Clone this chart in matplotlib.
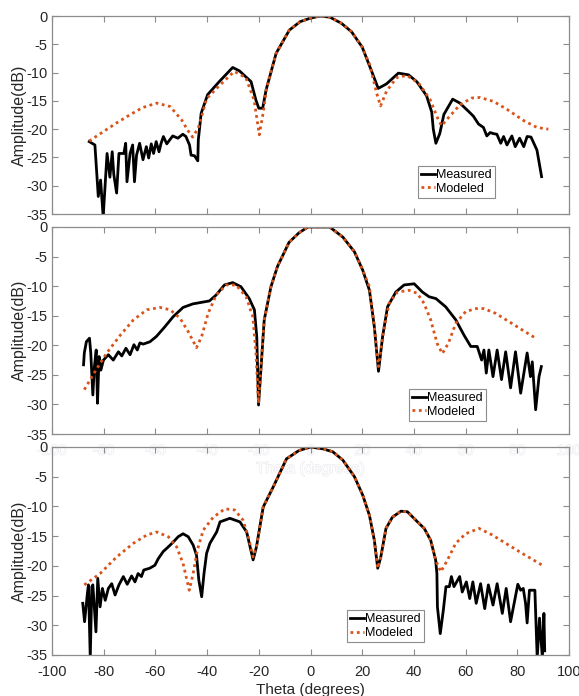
import numpy as np
import matplotlib.pyplot as plt
import matplotlib.patheffects as pe

plt.rcParams['font.family'] = ['Liberation Sans', 'DejaVu Sans']
plt.rcParams['axes.unicode_minus'] = False

# Datos (theta en grados, amplitud en dB)
medido_1 = np.array([
    (-85.6, -22.2), (-83.4, -22.8), (-82.8, -27.0), (-82.1, -31.9), (-81.2, -29.0), (-80.2, -35.5),
    (-78.7, -24.3), (-77.6, -28.5), (-76.7, -24.0), (-76.1, -28.0), (-75.0, -31.3), (-74.1, -24.3),
    (-72.2, -24.3), (-71.5, -22.5), (-71.0, -29.3), (-69.8, -24.3), (-68.8, -22.8), (-68.1, -29.3),
    (-67.3, -24.6), (-66.1, -22.5), (-64.8, -25.4), (-63.5, -23.1), (-62.6, -25.1), (-61.6, -22.6),
    (-60.7, -24.3), (-59.7, -22.2), (-58.6, -24.0), (-57.8, -22.5), (-56.9, -21.3), (-55.6, -22.6),
    (-53.3, -21.2), (-51.3, -21.6), (-49.4, -20.9), (-48.2, -21.3), (-46.8, -22.8), (-46.2, -24.6),
    (-44.9, -24.7), (-43.6, -25.6), (-43.4, -21.9), (-42.3, -17.2), (-39.8, -13.9), (-35.3, -11.6),
    (-30.1, -9.1), (-27.5, -9.7), (-23.0, -11.6), (-21.1, -14.9), (-20.0, -16.3), (-18.5, -16.3),
    (-17.2, -13.1), (-13.3, -6.6), (-8.2, -2.5), (-4.0, -1.0), (-0.2, -0.4), (3.7, 0.0), (7.5, -0.2),
    (12.0, -1.3), (15.9, -2.8), (20.0, -5.5), (23.0, -9.0), (26.2, -12.8), (29.4, -12.0), (34.0, -10.1),
    (37.9, -10.4), (41.1, -11.6), (44.9, -14.1), (46.9, -17.0), (47.5, -20.0), (48.5, -22.5),
    (50.0, -20.8), (51.6, -17.4), (55.0, -14.7), (57.8, -15.4), (61.0, -16.8), (63.0, -17.7),
    (65.0, -19.1), (66.9, -19.7), (68.2, -21.2), (69.5, -20.6), (70.8, -20.8), (72.1, -20.9),
    (73.6, -22.5), (74.7, -21.3), (76.0, -22.8), (77.9, -21.2), (79.2, -23.1), (80.9, -21.6),
    (82.5, -23.1), (83.8, -21.3), (85.3, -21.4), (87.6, -23.7), (89.4, -28.4),
])
modelo_1 = np.array([
    (-85.6, -22.1), (-80.0, -20.4), (-75.0, -18.9), (-70.0, -17.5), (-65.0, -16.2), (-59.5, -15.4),
    (-54.3, -16.0), (-49.8, -18.4), (-47.5, -20.2), (-45.6, -21.4), (-43.4, -19.8), (-40.2, -14.6),
    (-35.0, -12.2), (-29.5, -9.8), (-25.0, -10.9), (-21.8, -14.9), (-19.8, -21.0), (-18.3, -17.1),
    (-17.0, -12.7), (-13.3, -6.6), (-8.2, -2.5), (-4.0, -1.0), (-0.2, -0.4), (3.7, 0.0), (7.5, -0.2),
    (12.0, -1.3), (15.9, -2.8), (20.0, -5.5), (23.0, -8.7), (25.5, -13.5), (27.1, -15.9), (29.4, -13.3),
    (33.3, -10.9), (37.2, -10.5), (41.7, -11.8), (46.2, -14.7), (49.4, -18.3), (50.7, -19.4),
    (53.3, -18.0), (57.8, -15.7), (62.4, -14.5), (65.6, -14.4), (70.8, -15.1), (76.0, -16.5),
    (82.5, -18.5), (87.6, -19.7), (92.0, -20.0),
])

medido_2 = np.array([
    (-87.8, -23.3), (-87.5, -21.3), (-86.7, -19.4), (-85.5, -18.8), (-85.0, -21.3), (-84.2, -28.4),
    (-83.6, -23.6), (-82.9, -20.8), (-82.4, -29.8), (-81.8, -21.9), (-81.1, -24.2), (-80.1, -22.5),
    (-78.2, -21.6), (-76.3, -22.5), (-74.3, -21.1), (-73.0, -21.8), (-71.4, -20.5), (-69.8, -21.6),
    (-68.3, -19.9), (-67.0, -20.8), (-66.0, -19.6), (-64.7, -19.8), (-62.1, -19.4), (-59.6, -18.5),
    (-56.4, -16.9), (-53.2, -15.2), (-49.3, -13.6), (-45.5, -13.0), (-39.1, -12.5), (-36.5, -11.5),
    (-33.3, -9.8), (-30.1, -9.4), (-26.9, -10.1), (-23.7, -12.1), (-21.7, -14.0), (-20.8, -18.5),
    (-20.1, -30.1), (-19.2, -24.2), (-17.9, -15.7), (-15.3, -10.1), (-12.8, -6.7), (-8.3, -2.6),
    (-4.5, -1.0), (-1.0, 0.0), (3.0, 0.0), (7.4, 0.0), (12.5, -1.7), (17.0, -4.2), (20.2, -7.3),
    (22.8, -10.7), (24.7, -16.9), (26.3, -24.4), (27.9, -18.5), (29.8, -13.5), (33.0, -11.0),
    (36.2, -9.8), (40.1, -9.6), (43.3, -11.0), (45.9, -11.8), (48.5, -12.1), (52.3, -13.5),
    (56.2, -15.7), (59.4, -18.3), (62.0, -20.2), (64.5, -20.2), (66.2, -22.5), (67.1, -20.8),
    (68.0, -24.7), (69.0, -20.8), (70.6, -25.3), (72.2, -20.8), (73.9, -25.8), (75.5, -21.1),
    (77.4, -27.2), (79.3, -21.1), (81.3, -28.1), (83.8, -21.3), (85.1, -25.3), (85.8, -22.8),
    (87.1, -30.9), (88.4, -25.3), (89.3, -23.6),
])
modelo_2 = np.array([
    (-87.5, -27.5), (-82.6, -23.9), (-78.8, -21.3), (-73.6, -18.3), (-68.5, -15.7), (-63.3, -14.0),
    (-58.2, -13.6), (-54.3, -14.0), (-50.5, -15.4), (-47.3, -17.7), (-44.1, -20.4), (-42.1, -18.5),
    (-39.6, -14.6), (-36.5, -11.5), (-32.6, -9.8), (-28.8, -9.8), (-24.9, -11.8), (-22.3, -15.2),
    (-21.1, -21.3), (-20.1, -29.8), (-18.8, -21.3), (-17.9, -15.7), (-15.3, -10.1), (-12.8, -6.7),
    (-8.3, -2.6), (-4.5, -1.0), (-1.0, 0.0), (3.0, 0.0), (7.4, 0.0), (12.5, -1.7), (17.0, -4.2),
    (20.2, -7.3), (22.8, -10.1), (24.7, -16.9), (26.3, -23.6), (28.1, -18.0), (30.4, -12.9),
    (33.6, -11.0), (38.1, -10.7), (41.3, -11.2), (43.9, -12.9), (46.5, -15.7), (49.0, -19.7),
    (51.0, -21.4), (53.3, -19.7), (56.2, -16.3), (60.0, -14.3), (63.9, -13.8), (67.1, -13.8),
    (71.6, -14.6), (76.8, -16.0), (81.9, -17.4), (87.1, -18.8),
])

medido_3 = np.array([
    (-88.1, -26.3), (-87.4, -29.4), (-86.3, -24.6), (-85.9, -23.2), (-85.2, -35.5), (-84.6, -23.5),
    (-84.2, -23.2), (-83.0, -31.1), (-82.3, -22.1), (-81.4, -26.9), (-80.5, -23.8), (-79.4, -25.8),
    (-78.2, -23.8), (-76.9, -23.0), (-75.6, -24.9), (-74.1, -23.2), (-72.4, -21.8), (-70.9, -23.1),
    (-69.2, -21.7), (-67.9, -22.7), (-66.7, -21.3), (-65.4, -21.8), (-64.5, -20.7), (-62.2, -20.4),
    (-60.2, -19.9), (-58.9, -18.8), (-57.0, -17.6), (-55.0, -16.8), (-53.1, -16.0), (-51.2, -15.1),
    (-49.3, -14.6), (-47.3, -15.1), (-45.4, -16.5), (-44.1, -18.2), (-43.2, -22.4), (-42.1, -25.2),
    (-41.2, -21.3), (-40.2, -17.9), (-38.9, -16.2), (-36.3, -14.3), (-35.0, -12.6), (-31.2, -12.0),
    (-27.3, -12.6), (-24.7, -14.3), (-22.2, -19.0), (-20.9, -16.8), (-18.3, -10.1), (-14.4, -6.7),
    (-9.3, -2.0), (-4.5, -0.6), (0.0, 0.0), (4.7, -0.3), (8.6, -0.8), (12.5, -2.2), (17.0, -5.0),
    (20.2, -8.1), (22.8, -11.5), (24.7, -15.7), (26.0, -20.4), (27.2, -18.5), (29.2, -13.7),
    (31.7, -11.8), (35.0, -10.8), (37.5, -10.9), (41.4, -12.6), (44.0, -13.7), (46.5, -15.7),
    (48.4, -19.0), (48.9, -21.3), (49.1, -26.9), (50.2, -31.4), (51.4, -27.4), (52.4, -23.5),
    (53.7, -23.5), (54.5, -21.8), (55.5, -23.5), (57.7, -21.8), (58.7, -24.4), (60.3, -22.7),
    (61.6, -25.5), (62.8, -22.7), (64.1, -26.3), (65.8, -23.0), (67.4, -27.2), (68.8, -23.2),
    (70.6, -26.6), (72.2, -23.0), (74.2, -28.0), (75.7, -23.8), (77.4, -29.4), (79.0, -25.8),
    (80.2, -23.1), (81.3, -24.1), (82.3, -23.8), (83.2, -26.3), (83.8, -29.6), (84.7, -24.1),
    (86.8, -24.1), (87.7, -35.5), (88.6, -28.8), (89.7, -35.5), (90.3, -28.0), (90.6, -34.3),
])
modelo_3 = np.array([
    (-87.5, -23.2), (-81.4, -21.3), (-75.0, -18.5), (-68.5, -16.2), (-63.3, -14.8), (-59.5, -14.3),
    (-55.0, -15.1), (-51.8, -16.8), (-49.3, -19.6), (-46.9, -24.1), (-45.4, -21.3), (-43.8, -17.4),
    (-41.5, -14.0), (-37.6, -11.8), (-33.1, -10.4), (-29.3, -10.6), (-26.1, -12.3), (-24.1, -15.1),
    (-22.2, -18.5), (-20.9, -16.8), (-18.3, -10.1), (-14.4, -6.7), (-9.3, -2.0), (-4.5, -0.6),
    (0.0, 0.0), (4.7, -0.3), (8.6, -0.8), (12.5, -2.2), (17.0, -5.0), (20.2, -8.1), (22.8, -11.5),
    (24.7, -15.7), (26.0, -20.4), (27.2, -18.5), (29.2, -13.7), (31.7, -11.8), (35.0, -10.8),
    (37.5, -10.9), (41.4, -12.6), (44.0, -13.7), (46.5, -15.7), (48.4, -19.0), (50.4, -21.0),
    (53.0, -19.0), (56.2, -16.2), (60.0, -14.6), (65.2, -13.7), (70.3, -14.8), (75.5, -16.2),
    (81.9, -17.9), (89.7, -19.9),
])

paneles = [(medido_1, modelo_1), (medido_2, modelo_2), (medido_3, modelo_3)]
xticks = [-100, -80, -60, -40, -20, 0, 20, 40, 60, 80, 100]
yticks = [-35, -30, -25, -20, -15, -10, -5, 0]

# posiciones en px de la figura: (arriba, abajo) de cada eje
W, H = 579, 696
cajas = [(16, 214), (227, 434), (447, 655)]
leyendas = [(0.708, 0.081), (0.690, 0.063), (0.571, 0.0625)]

gris = '#8c8c8c'
naranja = '#D95319'

fig = plt.figure(figsize=(W / 100, H / 100), dpi=100)

for i, ((med, mod), (t, b)) in enumerate(zip(paneles, cajas)):
    ax = fig.add_axes([52 / W, 1 - b / H, 517 / W, (b - t) / H])
    ax.patch.set_alpha(0)
    ax.plot(med[:, 0], med[:, 1], color='black', lw=2, label='Measured')
    ax.plot(mod[:, 0], mod[:, 1], color=naranja, lw=2, ls=(0, (1, 1.3)), label='Modeled')
    ax.set_xlim(-100, 100)
    ax.set_ylim(-35, 0)
    ax.set_xticks(xticks)
    ax.set_yticks(yticks)
    ax.tick_params(direction='in', length=4, width=0.8, color=gris, top=True, right=True,
                   labelsize=10.5, labelcolor='#262626', pad=3)
    ax.tick_params(axis='x', pad=7)
    for s in ax.spines.values():
        s.set_color(gris)
        s.set_linewidth(0.9)
    ax.set_ylabel('Amplitude(dB)', fontsize=11.5, color='#262626', labelpad=0)
    if i == 0:
        ax.tick_params(labelbottom=False)
    elif i == 1:
        # etiquetas "fantasma" del panel del medio
        efecto = [pe.withStroke(linewidth=0.8, foreground='#e8e8ee')]
        for lab in ax.get_xticklabels():
            lab.set_color('white')
            lab.set_path_effects(efecto)
        ax.set_xlabel('Theta (degrees)', fontsize=11, color='white', path_effects=efecto, labelpad=3)
    else:
        ax.set_xlabel('Theta (degrees)', fontsize=11, color='#262626', labelpad=3)
    leg = ax.legend(loc='lower left', bbox_to_anchor=leyendas[i], borderaxespad=0, fontsize=9,
                    handlelength=1.1, handletextpad=0.1, borderpad=0.25, labelspacing=0.15,
                    fancybox=False, framealpha=1, edgecolor=gris)
    leg.get_frame().set_linewidth(0.8)

fig.savefig('out.png', dpi=100)
